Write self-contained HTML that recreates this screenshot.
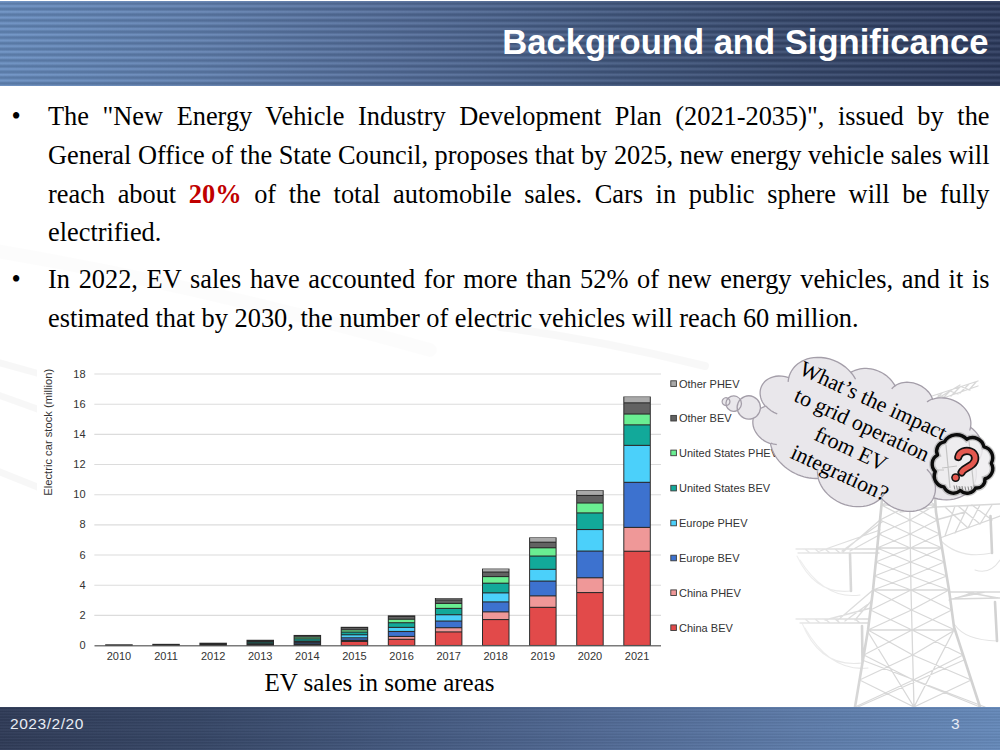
<!DOCTYPE html>
<html><head><meta charset="utf-8">
<style>
html,body{margin:0;padding:0;}
body{width:1000px;height:750px;position:relative;overflow:hidden;background:#fff;font-family:"Liberation Serif",serif;}
svg{position:absolute;left:0;top:0;}
.hdr{position:absolute;left:0;top:1px;width:1000px;height:85px;
 background:
  repeating-linear-gradient(to bottom, rgba(0,0,0,0.17) 0px, rgba(0,0,0,0.17) 0.6px, rgba(255,255,255,0.09) 2.86px, rgba(0,0,0,0.17) 5.12px, rgba(0,0,0,0.17) 5.72px),
  linear-gradient(to right,rgb(107,146,199) 0%,rgb(99,132,182) 20%,rgb(86,113,160) 40%,rgb(70,94,136) 60%,rgb(56,75,113) 80%,rgb(46,61,98) 100%);
 background-position:0 2.3px,0 0;}
.ftr{position:absolute;left:0;top:707px;width:1000px;height:43px;
 background:
  repeating-linear-gradient(to bottom, rgba(0,0,0,0.17) 0px, rgba(255,255,255,0.09) 1.43px, rgba(0,0,0,0.17) 2.86px),
  linear-gradient(to left,rgb(103,142,195) 0%,rgb(94,127,177) 20%,rgb(80,107,154) 40%,rgb(65,88,130) 60%,rgb(51,69,104) 80%,rgb(44,57,88) 100%);background-position:0 1.5px,0 0;}
.title{position:absolute;right:11.6px;top:24.9px;font-family:"Liberation Sans",sans-serif;font-weight:bold;font-size:34.6px;line-height:1;color:#fff;white-space:nowrap;}
.body{position:absolute;left:48px;top:98.2px;width:941.5px;font-size:26.35px;line-height:38.7px;color:#000;}
.ln{display:block;text-align:justify;text-align-last:justify;white-space:nowrap;}
.ln.last{text-align:left;text-align-last:left;}
.bul{position:absolute;left:-36.5px;}
.p1,.p2{position:relative;}
.p2{margin-top:8.4px;}
.red{color:#c00000;font-weight:bold;}
.date{position:absolute;left:10px;top:715px;font-family:"Liberation Sans",sans-serif;font-size:15.5px;letter-spacing:0.55px;color:#e8ecf4;}
.pnum{position:absolute;left:951px;top:715px;font-family:"Liberation Sans",sans-serif;font-size:15.5px;color:#e8ecf4;}
.cap{position:absolute;left:264.5px;top:670px;font-size:25px;line-height:1;color:#000;white-space:nowrap;}
.tk{font-family:"Liberation Sans",sans-serif;font-size:11px;fill:#333;}
.yt{font-family:"Liberation Sans",sans-serif;font-size:11.2px;fill:#333;}
.lg{font-family:"Liberation Sans",sans-serif;font-size:11px;fill:#333;}
.ct{font-family:"Liberation Serif",serif;font-size:21.9px;fill:#000;}
.q{font-family:"Liberation Sans",sans-serif;font-weight:bold;font-size:40px;fill:#e4584f;stroke:#111;stroke-width:2.2px;paint-order:stroke;}
</style></head><body>
<svg width="1000" height="750" viewBox="0 0 1000 750"><g fill="none" stroke="#000" stroke-linecap="round"><path d="M500,327 Q600,340 705,366" stroke-width="8" stroke-opacity="0.028"/><path d="M-10,250 Q200,285 430,350" stroke-width="14" stroke-opacity="0.013"/><path d="M-10,360 L40,374 M-10,392 L40,410 M-10,468 L40,488" stroke-width="7" stroke-opacity="0.03"/></g></svg>
<svg width="1000" height="750" viewBox="0 0 1000 750"><defs><linearGradient id="tf" x1="780" y1="0" x2="880" y2="0" gradientUnits="userSpaceOnUse"><stop offset="0" stop-color="#fff" stop-opacity="1"/><stop offset="1" stop-color="#fff" stop-opacity="0"/></linearGradient></defs><g fill="none" stroke-linecap="round"><path d="M797,556 Q815,595 851,591 M800,560 Q825,600 860,595 M802,623 Q820,668 862,663 M805,628 Q830,672 868,668 M992,553 Q960,560 940,540 M997,641 Q965,640 955,625 M1000,560 Q990,575 975,570" stroke="#e4e4e4" stroke-width="1.1"/><path d="M908.0,392.0 L911.0,590.0 L914.0,707.0 M888.0,392.0 L908.3,412.0 M908.0,392.0 L886.9,412.0 M908.0,392.0 L929.3,412.0 M928.0,392.0 L908.3,412.0 M886.9,412.0 L908.6,432.0 M908.3,412.0 L885.8,432.0 M908.3,412.0 L930.7,432.0 M929.3,412.0 L908.6,432.0 M885.8,432.0 L908.9,452.0 M908.6,432.0 L884.7,452.0 M908.6,432.0 L932.0,452.0 M930.7,432.0 L908.9,452.0 M884.7,452.0 L909.2,472.0 M908.9,452.0 L883.6,472.0 M908.9,452.0 L933.3,472.0 M932.0,452.0 L909.2,472.0 M883.6,472.0 L909.5,490.0 M909.2,472.0 L882.6,490.0 M909.2,472.0 L934.5,490.0 M933.3,472.0 L909.5,490.0 M882.6,490.0 L909.7,505.0 M909.5,490.0 L881.5,505.0 M909.5,490.0 L935.5,505.0 M934.5,490.0 L909.7,505.0 M881.5,505.0 L909.9,520.0 M909.7,505.0 L880.0,520.0 M909.7,505.0 L937.3,520.0 M935.5,505.0 L909.9,520.0 M881.5,505.0 L935.5,505.0 M880.0,520.0 L910.2,534.0 M909.9,520.0 L878.6,534.0 M909.9,520.0 L939.7,534.0 M937.3,520.0 L910.2,534.0 M878.6,534.0 L910.4,548.0 M910.2,534.0 L877.2,548.0 M910.2,534.0 L942.0,548.0 M939.7,534.0 L910.4,548.0 M877.2,548.0 L910.6,562.0 M910.4,548.0 L875.8,562.0 M910.4,548.0 L944.3,562.0 M942.0,548.0 L910.6,562.0 M877.2,548.0 L942.0,548.0 M875.8,562.0 L910.8,576.0 M910.6,562.0 L874.4,576.0 M910.6,562.0 L946.7,576.0 M944.3,562.0 L910.8,576.0 M874.4,576.0 L911.0,590.0 M910.8,576.0 L873.0,590.0 M910.8,576.0 L949.0,590.0 M946.7,576.0 L911.0,590.0 M873.0,590.0 L911.5,610.0 M911.0,590.0 L870.5,610.0 M911.0,590.0 L951.7,610.0 M949.0,590.0 L911.5,610.0 M873.0,590.0 L949.0,590.0 M870.5,610.0 L912.0,630.0 M911.5,610.0 L868.0,630.0 M911.5,610.0 L955.0,630.0 M951.7,610.0 L912.0,630.0 M868.0,630.0 L912.7,655.0 M912.0,630.0 L863.8,655.0 M912.0,630.0 L963.1,655.0 M955.0,630.0 L912.7,655.0 M868.0,630.0 L955.0,630.0 M863.8,655.0 L913.3,680.0 M912.7,655.0 L859.6,680.0 M912.7,655.0 L971.2,680.0 M963.1,655.0 L913.3,680.0 M859.6,680.0 L914.0,707.0 M913.3,680.0 L855.0,707.0 M913.3,680.0 L980.0,707.0 M971.2,680.0 L914.0,707.0 M868.0,632.0 L914.0,707.0 M954.0,630.0 L914.0,707.0 M862.0,660.0 L985.0,707.0 M964.0,660.0 L858.0,707.0 M796.0,549.0 L880.0,549.0 M798.0,553.0 L879.0,553.0 M843.0,552.0 L880.0,520.0 M820.0,551.0 L880.0,530.0 M796.0,619.0 L869.0,619.0 M800.0,623.0 L868.0,623.0 M845.0,621.0 L871.0,602.0 M825.0,620.0 L871.0,608.0 M936.0,507.0 L1000.0,504.0 M940.0,538.0 L1000.0,516.0 M945.0,536.0 L955.0,506.0 M955.0,533.0 L968.0,506.0 M968.0,528.0 L980.0,505.0 M980.0,524.0 L992.0,505.0 M945.0,507.0 L968.0,528.0 M958.0,506.0 L980.0,524.0 M972.0,505.0 L992.0,520.0 M900.0,512.0 L936.0,507.0 M949.0,592.0 L1000.0,592.0 M951.0,599.0 L1000.0,598.0 M955.0,598.0 L985.0,592.0 M965.0,592.0 L998.0,598.0 M842.0,551.0 L882.0,522.0 M850.0,551.0 L881.0,534.0 M855.0,620.0 L872.0,600.0 M838.0,620.0 L873.0,590.0 M936.0,520.0 L965.0,512.0 M949.0,600.0 L972.0,593.0 M926.0,398.0 L978.0,381.0 M926.0,404.0 L978.0,386.0 M935.0,400.0 L960.0,385.0 M933.0,402.0 L942.0,393.0 M942.0,399.0 L951.0,390.0 M951.0,396.0 L960.0,387.0 M960.0,393.0 L969.0,384.0 M969.0,390.0 L976.0,382.0 M938.0,395.0 L946.0,398.0 M950.0,391.0 L958.0,394.0 M962.0,387.0 L970.0,390.0 M805.0,549.0 L810.0,553.0 M815.0,549.0 L820.0,553.0 M825.0,549.0 L830.0,553.0 M835.0,549.0 L840.0,553.0 M805.0,619.0 L810.0,623.0 M815.0,619.0 L820.0,623.0 M825.0,619.0 L830.0,623.0 M835.0,619.0 L840.0,623.0 M855.0,619.0 L860.0,623.0" stroke="#d8d8d8" stroke-width="1.3"/><path d="M888.0,392.0 L882.0,500.0 L873.0,590.0 L868.0,630.0 L855.0,707.0 M928.0,392.0 L936.0,512.0 L949.0,590.0 L954.0,627.0 L980.0,707.0 M850.0,554.0 L851.0,591.0 M862.0,626.0 L862.5,663.0 M990.5,516.0 L992.0,553.0 M995.0,602.0 L997.0,641.0" stroke="#d2d2d2" stroke-width="2.6"/></g><rect x="780" y="340" width="100" height="370" fill="url(#tf)" opacity="0.5"/></svg>
<div class="hdr"></div>
<div class="title">Background and Significance</div>
<div class="body">
 <div class="p1"><span class="bul">•</span>
  <span class="ln">The "New Energy Vehicle Industry Development Plan (2021-2035)", issued by the</span>
  <span class="ln">General Office of the State Council, proposes that by 2025, new energy vehicle sales will</span>
  <span class="ln">reach about <span class="red">20%</span> of the total automobile sales. Cars in public sphere will be fully</span>
  <span class="ln last">electrified.</span>
 </div>
 <div class="p2"><span class="bul">•</span>
  <span class="ln">In 2022, EV sales have accounted for more than 52% of new energy vehicles, and it is</span>
  <span class="ln last">estimated that by 2030, the number of electric vehicles will reach 60 million.</span>
 </div>
</div>
<svg class="chart" width="1000" height="750" viewBox="0 0 1000 750">
<rect x="37" y="360" width="625" height="305" fill="#fff"/>
<line x1="94.3" y1="615.34" x2="661" y2="615.34" stroke="#dcdcdc" stroke-width="1.1"/>
<line x1="94.3" y1="585.18" x2="661" y2="585.18" stroke="#dcdcdc" stroke-width="1.1"/>
<line x1="94.3" y1="555.02" x2="661" y2="555.02" stroke="#dcdcdc" stroke-width="1.1"/>
<line x1="94.3" y1="524.86" x2="661" y2="524.86" stroke="#dcdcdc" stroke-width="1.1"/>
<line x1="94.3" y1="494.70" x2="661" y2="494.70" stroke="#dcdcdc" stroke-width="1.1"/>
<line x1="94.3" y1="464.54" x2="661" y2="464.54" stroke="#dcdcdc" stroke-width="1.1"/>
<line x1="94.3" y1="434.38" x2="661" y2="434.38" stroke="#dcdcdc" stroke-width="1.1"/>
<line x1="94.3" y1="404.22" x2="661" y2="404.22" stroke="#dcdcdc" stroke-width="1.1"/>
<line x1="94.3" y1="374.06" x2="661" y2="374.06" stroke="#dcdcdc" stroke-width="1.1"/>
<text x="85.6" y="649.10" text-anchor="end" class="tk">0</text>
<text x="85.6" y="618.94" text-anchor="end" class="tk">2</text>
<text x="85.6" y="588.78" text-anchor="end" class="tk">4</text>
<text x="85.6" y="558.62" text-anchor="end" class="tk">6</text>
<text x="85.6" y="528.46" text-anchor="end" class="tk">8</text>
<text x="85.6" y="498.30" text-anchor="end" class="tk">10</text>
<text x="85.6" y="468.14" text-anchor="end" class="tk">12</text>
<text x="85.6" y="437.98" text-anchor="end" class="tk">14</text>
<text x="85.6" y="407.82" text-anchor="end" class="tk">16</text>
<text x="85.6" y="377.66" text-anchor="end" class="tk">18</text>
<line x1="94.5" y1="645.8" x2="661" y2="645.8" stroke="#7a7a7a" stroke-width="1.5"/>
<rect x="105.20" y="644.29" width="27.5" height="1.21" fill="#2a2a2a"/>
<text x="118.95" y="659.6" text-anchor="middle" class="tk">2010</text>
<rect x="152.30" y="643.84" width="27.5" height="1.66" fill="#2a2a2a"/>
<text x="166.05" y="659.6" text-anchor="middle" class="tk">2011</text>
<rect x="199.40" y="642.71" width="27.5" height="2.79" fill="#2a2a2a"/>
<text x="213.15" y="659.6" text-anchor="middle" class="tk">2012</text>
<rect x="246.50" y="639.77" width="27.5" height="5.73" fill="#2a2a2a"/>
<rect x="247.50" y="642.73" width="25.5" height="0.41" fill="#12a99a"/>
<text x="260.25" y="659.6" text-anchor="middle" class="tk">2013</text>
<rect x="293.60" y="634.94" width="27.5" height="10.56" fill="#2a2a2a"/>
<rect x="294.60" y="642.88" width="25.5" height="0.41" fill="#3d72cf"/>
<rect x="294.60" y="639.41" width="25.5" height="1.16" fill="#12a99a"/>
<rect x="294.60" y="637.61" width="25.5" height="0.71" fill="#6aee92"/>
<rect x="294.60" y="636.10" width="25.5" height="0.41" fill="#626262"/>
<text x="307.35" y="659.6" text-anchor="middle" class="tk">2014</text>
<rect x="340.70" y="626.80" width="27.5" height="18.70" fill="#2a2a2a"/>
<rect x="341.70" y="641.98" width="25.5" height="2.97" fill="#e24a4a"/>
<rect x="341.70" y="638.36" width="25.5" height="1.31" fill="#3d72cf"/>
<rect x="341.70" y="635.34" width="25.5" height="1.92" fill="#4bd0fa"/>
<rect x="341.70" y="632.63" width="25.5" height="1.61" fill="#12a99a"/>
<rect x="341.70" y="630.37" width="25.5" height="1.16" fill="#6aee92"/>
<rect x="341.70" y="628.10" width="25.5" height="1.16" fill="#626262"/>
<text x="354.45" y="659.6" text-anchor="middle" class="tk">2015</text>
<rect x="387.80" y="615.34" width="27.5" height="30.16" fill="#2a2a2a"/>
<rect x="388.80" y="639.87" width="25.5" height="5.08" fill="#e24a4a"/>
<rect x="388.80" y="637.00" width="25.5" height="1.77" fill="#ef9898"/>
<rect x="388.80" y="632.03" width="25.5" height="3.88" fill="#3d72cf"/>
<rect x="388.80" y="627.95" width="25.5" height="2.97" fill="#4bd0fa"/>
<rect x="388.80" y="623.28" width="25.5" height="3.57" fill="#12a99a"/>
<rect x="388.80" y="619.81" width="25.5" height="2.37" fill="#6aee92"/>
<rect x="388.80" y="616.95" width="25.5" height="1.77" fill="#626262"/>
<text x="401.55" y="659.6" text-anchor="middle" class="tk">2016</text>
<rect x="434.90" y="598.00" width="27.5" height="47.50" fill="#2a2a2a"/>
<rect x="435.90" y="632.48" width="25.5" height="12.47" fill="#e24a4a"/>
<rect x="435.90" y="628.26" width="25.5" height="3.12" fill="#ef9898"/>
<rect x="435.90" y="621.62" width="25.5" height="5.54" fill="#3d72cf"/>
<rect x="435.90" y="615.29" width="25.5" height="5.23" fill="#4bd0fa"/>
<rect x="435.90" y="608.95" width="25.5" height="5.23" fill="#12a99a"/>
<rect x="435.90" y="603.98" width="25.5" height="3.88" fill="#6aee92"/>
<rect x="435.90" y="600.51" width="25.5" height="2.37" fill="#626262"/>
<rect x="435.90" y="598.55" width="25.5" height="0.86" fill="#a9a9a9"/>
<text x="448.65" y="659.6" text-anchor="middle" class="tk">2017</text>
<rect x="482.00" y="568.59" width="27.5" height="76.91" fill="#2a2a2a"/>
<rect x="483.00" y="620.11" width="25.5" height="24.84" fill="#e24a4a"/>
<rect x="483.00" y="612.42" width="25.5" height="6.59" fill="#ef9898"/>
<rect x="483.00" y="602.47" width="25.5" height="8.85" fill="#3d72cf"/>
<rect x="483.00" y="593.42" width="25.5" height="7.95" fill="#4bd0fa"/>
<rect x="483.00" y="583.77" width="25.5" height="8.55" fill="#12a99a"/>
<rect x="483.00" y="577.13" width="25.5" height="5.54" fill="#6aee92"/>
<rect x="483.00" y="572.61" width="25.5" height="3.42" fill="#626262"/>
<rect x="483.00" y="569.14" width="25.5" height="2.37" fill="#a9a9a9"/>
<text x="495.75" y="659.6" text-anchor="middle" class="tk">2018</text>
<rect x="529.10" y="537.38" width="27.5" height="108.12" fill="#2a2a2a"/>
<rect x="530.10" y="607.90" width="25.5" height="37.05" fill="#e24a4a"/>
<rect x="530.10" y="596.44" width="25.5" height="10.36" fill="#ef9898"/>
<rect x="530.10" y="581.66" width="25.5" height="13.68" fill="#3d72cf"/>
<rect x="530.10" y="569.90" width="25.5" height="10.66" fill="#4bd0fa"/>
<rect x="530.10" y="556.63" width="25.5" height="12.17" fill="#12a99a"/>
<rect x="530.10" y="548.33" width="25.5" height="7.19" fill="#6aee92"/>
<rect x="530.10" y="542.75" width="25.5" height="4.48" fill="#626262"/>
<rect x="530.10" y="537.93" width="25.5" height="3.73" fill="#a9a9a9"/>
<text x="542.85" y="659.6" text-anchor="middle" class="tk">2019</text>
<rect x="576.20" y="490.18" width="27.5" height="155.32" fill="#2a2a2a"/>
<rect x="577.20" y="593.12" width="25.5" height="51.83" fill="#e24a4a"/>
<rect x="577.20" y="578.34" width="25.5" height="13.68" fill="#ef9898"/>
<rect x="577.20" y="551.65" width="25.5" height="25.59" fill="#3d72cf"/>
<rect x="577.20" y="530.08" width="25.5" height="20.46" fill="#4bd0fa"/>
<rect x="577.20" y="513.50" width="25.5" height="15.49" fill="#12a99a"/>
<rect x="577.20" y="503.54" width="25.5" height="8.85" fill="#6aee92"/>
<rect x="577.20" y="496.00" width="25.5" height="6.44" fill="#626262"/>
<rect x="577.20" y="490.73" width="25.5" height="4.18" fill="#a9a9a9"/>
<text x="589.95" y="659.6" text-anchor="middle" class="tk">2020</text>
<rect x="623.30" y="396.53" width="27.5" height="248.97" fill="#2a2a2a"/>
<rect x="624.30" y="551.80" width="25.5" height="93.15" fill="#e24a4a"/>
<rect x="624.30" y="527.97" width="25.5" height="22.73" fill="#ef9898"/>
<rect x="624.30" y="482.88" width="25.5" height="43.99" fill="#3d72cf"/>
<rect x="624.30" y="445.94" width="25.5" height="35.85" fill="#4bd0fa"/>
<rect x="624.30" y="425.43" width="25.5" height="19.41" fill="#12a99a"/>
<rect x="624.30" y="414.57" width="25.5" height="9.76" fill="#6aee92"/>
<rect x="624.30" y="403.41" width="25.5" height="10.06" fill="#626262"/>
<rect x="624.30" y="397.08" width="25.5" height="5.23" fill="#a9a9a9"/>
<text x="637.05" y="659.6" text-anchor="middle" class="tk">2021</text>
<text transform="translate(51.8,495.7) rotate(-90)" class="yt">Electric car stock (million)</text>
<rect x="670.8" y="624.90" width="5.6" height="5.6" fill="#e24a4a" stroke="#3a3a3a" stroke-width="0.9"/>
<text x="679" y="631.90" class="lg">China BEV</text>
<rect x="670.8" y="589.90" width="5.6" height="5.6" fill="#ef9898" stroke="#3a3a3a" stroke-width="0.9"/>
<text x="679" y="596.90" class="lg">China PHEV</text>
<rect x="670.8" y="555.20" width="5.6" height="5.6" fill="#3d72cf" stroke="#3a3a3a" stroke-width="0.9"/>
<text x="679" y="562.20" class="lg">Europe BEV</text>
<rect x="670.8" y="520.20" width="5.6" height="5.6" fill="#4bd0fa" stroke="#3a3a3a" stroke-width="0.9"/>
<text x="679" y="527.20" class="lg">Europe PHEV</text>
<rect x="670.8" y="485.30" width="5.6" height="5.6" fill="#12a99a" stroke="#3a3a3a" stroke-width="0.9"/>
<text x="679" y="492.30" class="lg">United States BEV</text>
<rect x="670.8" y="450.10" width="5.6" height="5.6" fill="#6aee92" stroke="#3a3a3a" stroke-width="0.9"/>
<text x="679" y="457.10" class="lg">United States PHEV</text>
<rect x="670.8" y="415.40" width="5.6" height="5.6" fill="#626262" stroke="#3a3a3a" stroke-width="0.9"/>
<text x="679" y="422.40" class="lg">Other BEV</text>
<rect x="670.8" y="380.80" width="5.6" height="5.6" fill="#a9a9a9" stroke="#3a3a3a" stroke-width="0.9"/>
<text x="679" y="387.80" class="lg">Other PHEV</text>
</svg>
<svg width="1000" height="750" viewBox="0 0 1000 750">
<g transform="translate(866.8,437.6) rotate(24.05)"><path d="M-95.75,-23.38 L-96.00,-25.35 L-96.09,-27.32 L-96.01,-29.29 L-95.77,-31.26 L-95.37,-33.24 L-94.79,-35.24 L-94.01,-37.26 L-93.02,-39.30 L-91.80,-41.35 L-90.31,-43.42 L-88.53,-45.48 L-86.43,-47.51 L-83.97,-49.49 L-81.14,-51.36 L-77.91,-53.08 L-74.30,-54.57 L-70.35,-55.78 L-66.12,-56.62 L-61.72,-57.05 L-57.25,-57.05 L-52.84,-56.60 L-48.62,-55.74 L-44.68,-54.53 L-41.09,-53.03 L-40.26,-54.21 L-39.31,-55.40 L-38.24,-56.58 L-37.02,-57.75 L-35.66,-58.90 L-34.15,-60.01 L-32.47,-61.07 L-30.63,-62.06 L-28.63,-62.97 L-26.48,-63.77 L-24.19,-64.44 L-21.78,-64.96 L-19.28,-65.31 L-16.73,-65.49 L-14.16,-65.47 L-11.61,-65.28 L-9.12,-64.90 L-6.73,-64.36 L-4.45,-63.68 L-2.32,-62.86 L-0.34,-61.94 L1.48,-60.94 L3.14,-59.87 L4.63,-58.75 L5.34,-59.83 L6.17,-60.90 L7.12,-61.97 L8.22,-63.04 L9.45,-64.07 L10.85,-65.08 L12.41,-66.03 L14.13,-66.90 L16.01,-67.68 L18.04,-68.34 L20.19,-68.85 L22.44,-69.20 L24.76,-69.38 L27.09,-69.36 L29.39,-69.17 L31.63,-68.79 L33.77,-68.25 L35.78,-67.58 L37.64,-66.79 L39.34,-65.90 L40.87,-64.94 L42.25,-63.93 L43.47,-62.89 L44.54,-61.83 L46.09,-63.19 L47.89,-64.51 L49.93,-65.74 L52.22,-66.85 L54.74,-67.81 L57.48,-68.57 L60.39,-69.09 L63.40,-69.34 L66.43,-69.31 L69.43,-69.00 L72.30,-68.42 L74.99,-67.62 L77.47,-66.62 L79.71,-65.48 L81.69,-64.22 L83.43,-62.90 L84.94,-61.52 L86.23,-60.13 L87.32,-58.72 L88.24,-57.32 L88.99,-55.93 L89.60,-54.55 L90.08,-53.18 L90.44,-51.82 L93.27,-51.06 L95.90,-50.11 L98.30,-48.99 L100.47,-47.76 L102.39,-46.43 L104.09,-45.05 L105.57,-43.63 L106.84,-42.20 L107.93,-40.76 L108.86,-39.33 L109.63,-37.90 L110.26,-36.48 L110.77,-35.08 L111.16,-33.69 L111.44,-32.31 L111.62,-30.94 L111.71,-29.57 L111.69,-28.20 L111.57,-26.83 L111.36,-25.46 L111.04,-24.08 L110.61,-22.68 L110.06,-21.27 L109.38,-19.86 L111.25,-17.68 L112.79,-15.50 L114.05,-13.33 L115.05,-11.18 L115.82,-9.06 L116.39,-6.95 L116.75,-4.86 L116.94,-2.78 L116.94,-0.71 L116.77,1.37 L116.41,3.46 L115.86,5.57 L115.10,7.69 L114.11,9.84 L112.86,12.01 L111.33,14.19 L109.47,16.36 L107.26,18.51 L104.65,20.59 L101.62,22.56 L98.16,24.35 L94.28,25.87 L90.03,27.05 L85.50,27.82 L85.42,29.37 L85.23,30.93 L84.92,32.49 L84.47,34.07 L83.89,35.66 L83.16,37.26 L82.26,38.88 L81.18,40.51 L79.90,42.14 L78.39,43.76 L76.64,45.35 L74.63,46.89 L72.34,48.35 L69.77,49.69 L66.92,50.86 L63.82,51.83 L60.51,52.53 L57.05,52.95 L53.53,53.05 L50.03,52.83 L46.62,52.30 L43.39,51.49 L40.38,50.44 L37.63,49.20 L36.84,51.08 L35.87,52.99 L34.69,54.90 L33.27,56.83 L31.60,58.75 L29.65,60.65 L27.39,62.50 L24.80,64.27 L21.87,65.91 L18.61,67.37 L15.03,68.60 L11.19,69.54 L7.14,70.14 L2.99,70.36 L-1.17,70.20 L-5.24,69.65 L-9.12,68.77 L-12.74,67.58 L-16.05,66.15 L-19.03,64.53 L-21.67,62.78 L-23.98,60.94 L-25.98,59.04 L-27.70,57.12 L-30.14,58.23 L-32.74,59.23 L-35.49,60.10 L-38.37,60.83 L-41.35,61.39 L-44.42,61.77 L-47.55,61.97 L-50.68,61.97 L-53.81,61.79 L-56.88,61.42 L-59.87,60.87 L-62.76,60.15 L-65.52,59.29 L-68.13,58.30 L-70.58,57.19 L-72.87,56.00 L-74.99,54.73 L-76.94,53.40 L-78.72,52.02 L-80.35,50.62 L-81.83,49.19 L-83.17,47.75 L-84.37,46.30 L-85.45,44.85 L-88.85,44.98 L-92.23,44.70 L-95.45,44.05 L-98.42,43.09 L-101.07,41.88 L-103.36,40.50 L-105.31,39.01 L-106.94,37.46 L-108.28,35.89 L-109.35,34.31 L-110.20,32.75 L-110.84,31.20 L-111.31,29.67 L-111.61,28.15 L-111.76,26.64 L-111.77,25.14 L-111.62,23.63 L-111.33,22.11 L-110.87,20.58 L-110.24,19.03 L-109.40,17.47 L-108.34,15.89 L-107.03,14.32 L-105.42,12.77 L-107.94,11.37 L-110.07,9.84 L-111.85,8.23 L-113.30,6.59 L-114.45,4.95 L-115.36,3.32 L-116.05,1.71 L-116.54,0.12 L-116.86,-1.45 L-117.02,-3.02 L-117.03,-4.58 L-116.87,-6.14 L-116.56,-7.71 L-116.07,-9.30 L-115.39,-10.91 L-114.49,-12.54 L-113.34,-14.18 L-111.90,-15.82 L-110.14,-17.44 L-108.01,-18.97 L-105.50,-20.37 L-102.62,-21.55 L-99.40,-22.44 L-95.95,-22.95 Z" fill="#e9e7eb" stroke="#a49ea9" stroke-width="1.3"/><path d="M-139.32,24.50 A3.88,3.88 0 1,1 -147.08,24.50 A3.88,3.88 0 1,1 -139.32,24.50 Z M-127.70,23.18 A7.76,7.76 0 1,1 -143.22,23.18 A7.76,7.76 0 1,1 -127.70,23.18 Z M-108.43,20.54 A11.64,11.64 0 1,1 -131.72,20.54 A11.64,11.64 0 1,1 -108.43,20.54 Z " fill="#e9e7eb" stroke="#a49ea9" stroke-width="1.3"/><path d="M-91.46,14.80 L-93.31,14.86 L-95.16,14.80 L-96.99,14.62 L-98.78,14.33 L-100.50,13.93 L-102.15,13.44 L-103.71,12.87 L-105.17,12.22 M-79.37,43.01 L-80.08,43.22 L-80.79,43.42 L-81.53,43.61 L-82.27,43.77 L-83.03,43.92 L-83.80,44.05 L-84.58,44.15 L-85.37,44.24 M-27.71,56.56 L-28.27,55.85 L-28.80,55.15 L-29.29,54.44 L-29.76,53.74 L-30.19,53.03 L-30.59,52.33 L-30.97,51.63 L-31.32,50.93 M39.10,42.53 L39.01,43.29 L38.89,44.06 L38.75,44.83 L38.59,45.60 L38.39,46.37 L38.18,47.14 L37.93,47.92 L37.65,48.70 M67.78,4.38 L72.70,6.81 L76.64,9.63 L79.68,12.62 L81.93,15.66 L83.54,18.67 L84.60,21.63 L85.19,24.56 L85.37,27.45 M109.27,-20.20 L108.65,-19.11 L107.95,-18.01 L107.15,-16.91 L106.24,-15.81 L105.23,-14.72 L104.09,-13.64 L102.83,-12.58 L101.43,-11.55 M90.47,-52.30 L90.58,-51.79 L90.67,-51.28 L90.74,-50.77 L90.80,-50.25 L90.85,-49.74 L90.87,-49.24 L90.89,-48.73 L90.89,-48.22 M40.45,-57.07 L40.82,-57.72 L41.22,-58.37 L41.66,-59.02 L42.14,-59.68 L42.66,-60.33 L43.22,-60.99 L43.82,-61.64 L44.47,-62.28 M2.93,-54.59 L3.09,-55.14 L3.27,-55.70 L3.47,-56.25 L3.70,-56.82 L3.95,-57.38 L4.23,-57.94 L4.54,-58.51 L4.87,-59.08 M-41.11,-53.06 L-40.11,-52.57 L-39.15,-52.05 L-38.22,-51.53 L-37.32,-50.98 L-36.46,-50.43 L-35.63,-49.86 L-34.84,-49.28 L-34.08,-48.70 M-94.52,-18.79 L-94.73,-19.37 L-94.92,-19.95 L-95.10,-20.52 L-95.26,-21.10 L-95.40,-21.67 L-95.53,-22.24 L-95.65,-22.81 L-95.75,-23.38" fill="none" stroke="#a49ea9" stroke-width="1.3"/></g>
<g transform="translate(854.6,440.9) rotate(24.8)"><text x="0" y="-37.30" text-anchor="middle" class="ct">What’s the impact</text><text x="0" y="-10.70" text-anchor="middle" class="ct">to grid operation</text><text x="0" y="15.90" text-anchor="middle" class="ct">from EV</text><text x="0" y="42.50" text-anchor="middle" class="ct">integration?</text></g>
<g><path d="M944.39,441.88 A13.93,13.93 0 0,1 966.68,439.15 A11.74,11.74 0 0,1 983.98,446.89 A11.11,11.11 0 0,1 991.25,463.27 A10.37,10.37 0 0,1 984.88,478.74 A7.98,7.98 0 0,1 975.78,487.84 A9.74,9.74 0 0,1 960.32,490.57 A10.40,10.40 0 0,1 943.93,486.93 A10.99,10.99 0 0,1 935.29,471.46 A10.25,10.25 0 0,1 937.57,455.08 A9.21,9.21 0 0,1 944.39,441.88 Z" fill="rgba(238,237,240,0.85)" stroke="#8c8c8c" stroke-width="6" stroke-opacity="0.45"/><g stroke="#c4c4c4" stroke-width="1.2" fill="none"><path d="M946,445 L950,488 M969,441 L974,489 M942,468 L957,466 M935,470 L944,470"/></g><g stroke="#7a7a7a" stroke-width="0.9"><path d="M954,485.5 l0.8,4 M956.5,485.5 l0.8,4 M959,486 l0.8,4 M962,486 l0.8,4 M965,486.5 l0.8,4 M968,486.5 l0.8,4 M971,486 l0.8,4 M974,485.5 l0.8,4"/></g><path d="M944.39,441.88 A13.93,13.93 0 0,1 966.68,439.15 A11.74,11.74 0 0,1 983.98,446.89 A11.11,11.11 0 0,1 991.25,463.27 A10.37,10.37 0 0,1 984.88,478.74 A7.98,7.98 0 0,1 975.78,487.84 A9.74,9.74 0 0,1 960.32,490.57 A10.40,10.40 0 0,1 943.93,486.93 A10.99,10.99 0 0,1 935.29,471.46 A10.25,10.25 0 0,1 937.57,455.08 A9.21,9.21 0 0,1 944.39,441.88 Z" fill="none" stroke="#0c0c0c" stroke-width="3.4" stroke-linejoin="round"/><path d="M958.3,457 C959.5,451.5 966,449.8 970.5,451.5 C976.5,453.8 976.5,461 972,464.5 C968.5,467.2 964.5,468.5 962.5,471 L961.6,472.3" fill="none" stroke="#111" stroke-width="8.2" stroke-linecap="round"/><path d="M958.3,457 C959.5,451.5 966,449.8 970.5,451.5 C976.5,453.8 976.5,461 972,464.5 C968.5,467.2 964.5,468.5 962.5,471 L961.6,472.3" fill="none" stroke="#e4584f" stroke-width="4.8" stroke-linecap="round"/><circle cx="955.6" cy="477.6" r="4.4" fill="#111"/><circle cx="955.6" cy="477.6" r="2.9" fill="#e4584f"/></g>
</svg>
<div class="cap">EV sales in some areas</div>
<div class="ftr"></div>
<div class="date">2023/2/20</div>
<div class="pnum">3</div>
</body></html>
